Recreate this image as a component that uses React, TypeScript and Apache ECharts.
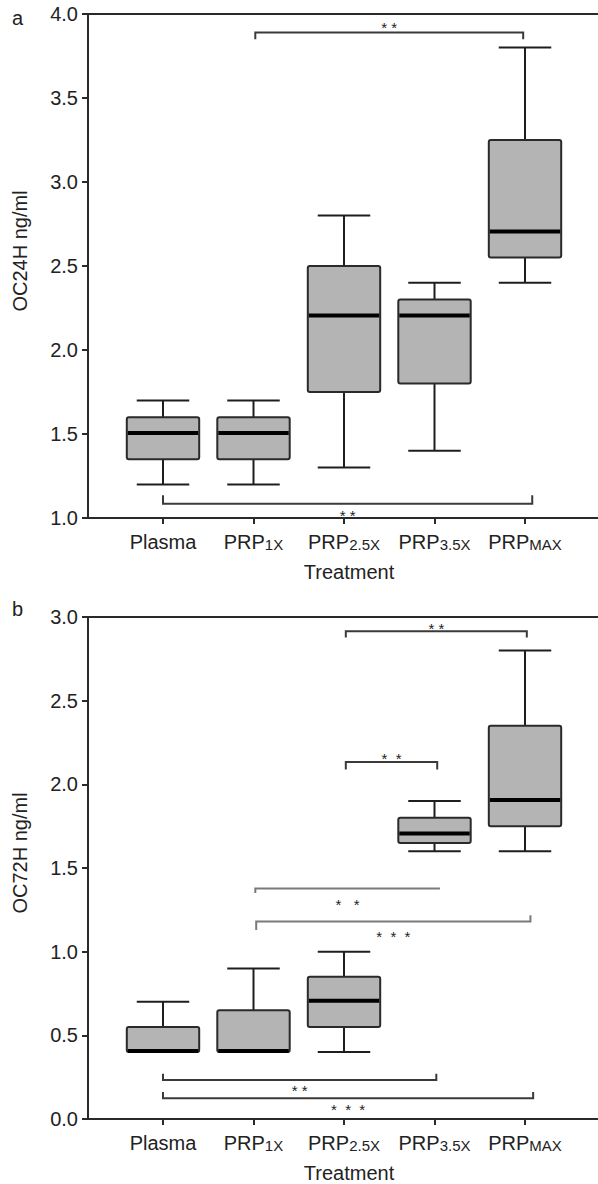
import React, { useEffect, useRef } from "react";
import * as echarts from "echarts";

// ---- data ----
const categories = ["Plasma", "PRP1X", "PRP2.5X", "PRP3.5X", "PRPMAX"];
const labelParts: [string, string][] = [
  ["Plasma", ""],
  ["PRP", "1X"],
  ["PRP", "2.5X"],
  ["PRP", "3.5X"],
  ["PRP", "MAX"],
];
// [min, Q1, median, Q3, max]
const oc24h: number[][] = [
  [1.2, 1.35, 1.5, 1.6, 1.7],
  [1.2, 1.35, 1.5, 1.6, 1.7],
  [1.3, 1.75, 2.2, 2.5, 2.8],
  [1.4, 1.8, 2.2, 2.3, 2.4],
  [2.4, 2.55, 2.7, 3.25, 3.8],
];
const oc72h: number[][] = [
  [0.4, 0.4, 0.4, 0.55, 0.7],
  [0.4, 0.4, 0.4, 0.65, 0.9],
  [0.4, 0.55, 0.7, 0.85, 1.0],
  [1.6, 1.65, 1.7, 1.8, 1.9],
  [1.6, 1.75, 1.9, 2.35, 2.8],
];
const yTicksA = [1.0, 1.5, 2.0, 2.5, 3.0, 3.5, 4.0];
const yTicksB = [0.0, 0.5, 1.0, 1.5, 2.0, 2.5, 3.0];

// significance brackets: [from, to, lineY, leftTickEnd, rightTickEnd, starsY]
const bracketsA: number[][] = [
  [1.02, 3.98, 3.89, 3.85, 3.85, 3.94],
  [0.0, 4.08, 1.085, 1.135, 1.135, 1.03],
];
const starsA = ["* *", "* *"];
const shadeA = [0, 0];

const bracketsB: number[][] = [
  [2.02, 4.02, 2.915, 2.878, 2.878, 2.95],
  [2.02, 3.03, 2.134, 2.088, 2.088, 2.17],
  [1.02, 3.06, 1.378, 1.35, 1.378, 1.3],
  [1.03, 4.06, 1.18, 1.13, 1.217, 1.11],
  [0.0, 3.02, 0.233, 0.27, 0.27, 0.1875],
  [0.0, 4.09, 0.124, 0.162, 0.162, 0.076],
];
const starsB = ["* *", "*  *", "*   *", "*  *  *", "* *", "*  *  *"];
const shadeB = [0, 0, 1, 1, 0, 0];

const FONT = "'Liberation Sans', Arial, Helvetica, sans-serif";

function boxRender(params: any, api: any) {
  const x = api.value(0);
  const lo = api.coord([x, api.value(1)]);
  const q1 = api.coord([x, api.value(2)]);
  const md = api.coord([x, api.value(3)]);
  const q3 = api.coord([x, api.value(4)]);
  const hi = api.coord([x, api.value(5)]);
  const unit = api.size([1, 0])[0];
  const bw = unit * 0.8;
  const cw = unit * 0.58;
  const cx = lo[0];
  const line = { stroke: "#1e1e1e", lineWidth: 2 };
  const children: any[] = [];
  if (hi[1] < q3[1] - 0.5) {
    children.push({ type: "line", shape: { x1: cx, y1: q3[1], x2: cx, y2: hi[1] }, style: line });
    children.push({ type: "line", shape: { x1: cx - cw / 2, y1: hi[1], x2: cx + cw / 2, y2: hi[1] }, style: line });
  }
  if (lo[1] > q1[1] + 0.5) {
    children.push({ type: "line", shape: { x1: cx, y1: q1[1], x2: cx, y2: lo[1] }, style: line });
    children.push({ type: "line", shape: { x1: cx - cw / 2, y1: lo[1], x2: cx + cw / 2, y2: lo[1] }, style: line });
  }
  children.push({
    type: "rect",
    shape: { x: cx - bw / 2, y: q3[1], width: bw, height: q1[1] - q3[1], r: 2 },
    style: { fill: "#b4b4b4", stroke: "#2a2a2a", lineWidth: 2 },
  });
  children.push({
    type: "line",
    shape: { x1: cx - bw / 2 + 1, y1: md[1] - 1, x2: cx + bw / 2 - 1, y2: md[1] - 1 },
    style: { stroke: "#000", lineWidth: 4 },
  });
  return { type: "group", children };
}

function makeBracketRender(labels: string[], shades: number[]) {
  return function (params: any, api: any) {
    const i = params.dataIndex;
    const x1 = api.value(0);
    const x2 = api.value(1);
    const y = api.value(2);
    const p1 = api.coord([x1, y]);
    const p2 = api.coord([x2, y]);
    const t1 = api.coord([x1, api.value(3)]);
    const t2 = api.coord([x2, api.value(4)]);
    const s = api.coord([(x1 + x2) / 2, api.value(5)]);
    const color = shades[i] ? "#7a7a7a" : "#3a3a3a";
    return {
      type: "group",
      children: [
        {
          type: "polyline",
          shape: { points: [[t1[0], t1[1]], [p1[0], p1[1]], [p2[0], p2[1]], [t2[0], t2[1]]] },
          style: { stroke: color, lineWidth: 2, fill: "none" },
        },
        {
          type: "text",
          x: s[0],
          y: s[1] + 3,
          style: {
            text: labels[i],
            fill: "#222",
            fontSize: 15,
            fontFamily: FONT,
            align: "center",
            verticalAlign: "middle",
          },
        },
      ],
    };
  };
}

const X_MIN = -0.8287;
const X_MAX = 4.8066;

function xAxisBottom(gridIndex: number) {
  return {
    type: "value",
    gridIndex,
    min: X_MIN,
    max: X_MAX,
    position: "bottom",
    name: "Treatment",
    nameLocation: "middle",
    nameGap: 44,
    nameTextStyle: { fontSize: 20, color: "#222", fontFamily: FONT, padding: [0, 0, 0, 12] },
    axisLine: { show: true, onZero: false, lineStyle: { color: "#2a2a2a", width: 2 } },
    axisTick: { show: true, customValues: [0, 1, 2, 3, 4], length: 6, lineStyle: { color: "#2a2a2a", width: 2 } },
    axisLabel: {
      show: true,
      customValues: [0, 1, 2, 3, 4],
      margin: 12,
      formatter: (v: number) => {
        const k = Math.round(v);
        const [a, b] = labelParts[k] || [categories[k], ""];
        return b ? `{a|${a}}{b|${b}}` : `{a|${a}}`;
      },
      rich: {
        a: { fontSize: 20, color: "#222", fontFamily: FONT, verticalAlign: "bottom", lineHeight: 22 },
        b: { fontSize: 15, color: "#222", fontFamily: FONT, verticalAlign: "bottom", lineHeight: 20 },
      },
    },
    splitLine: { show: false },
  };
}

function xAxisTop(gridIndex: number) {
  return {
    type: "value",
    gridIndex,
    min: X_MIN,
    max: X_MAX,
    position: "top",
    axisLine: { show: true, onZero: false, lineStyle: { color: "#2a2a2a", width: 2 } },
    axisTick: { show: false },
    axisLabel: { show: false },
    splitLine: { show: false },
  };
}

function yAxis(gridIndex: number, ticks: number[], name: string) {
  return {
    type: "value",
    gridIndex,
    min: ticks[0],
    max: ticks[ticks.length - 1],
    interval: 0.5,
    name,
    nameLocation: "middle",
    nameGap: 58,
    nameTextStyle: { fontSize: 20, color: "#222", fontFamily: FONT, padding: [0, 0, 0, 30] },
    axisLine: { show: true, onZero: false, lineStyle: { color: "#2a2a2a", width: 2 } },
    axisTick: { show: true, length: 6, lineStyle: { color: "#2a2a2a", width: 2 } },
    axisLabel: {
      fontSize: 20,
      color: "#222",
      fontFamily: FONT,
      margin: 10,
      formatter: (v: number) => v.toFixed(1),
    },
    splitLine: { show: false },
  };
}

export default function App() {
  const ref = useRef<HTMLDivElement>(null);
  useEffect(() => {
    document.body.style.margin = "0";
    if (!ref.current) return;
    const chart = echarts.init(ref.current, undefined, { renderer: "svg" });
    const boxA = oc24h.map((d, i) => [i, ...d]);
    const boxB = oc72h.map((d, i) => [i, ...d]);
    chart.setOption({
      animation: false,
      backgroundColor: "#fff",
      textStyle: { fontFamily: FONT },
      grid: [
        { left: 88, right: 0, top: 14, height: 504 },
        { left: 88, right: 0, top: 617, height: 504 },
      ],
      xAxis: [xAxisBottom(0), xAxisTop(0), xAxisBottom(1), xAxisTop(1)],
      yAxis: [yAxis(0, yTicksA, "OC24H ng/ml"), yAxis(1, yTicksB, "OC72H ng/ml")],
      graphic: [
        { type: "text", left: 12, top: 8, style: { text: "a", fontSize: 20, fill: "#222", fontFamily: FONT } },
        { type: "text", left: 12, top: 599, style: { text: "b", fontSize: 20, fill: "#222", fontFamily: FONT } },
      ],
      series: [
        { type: "custom", xAxisIndex: 0, yAxisIndex: 0, renderItem: boxRender, data: boxA, clip: false },
        { type: "custom", xAxisIndex: 0, yAxisIndex: 0, renderItem: makeBracketRender(starsA, shadeA), data: bracketsA, clip: false },
        { type: "custom", xAxisIndex: 2, yAxisIndex: 1, renderItem: boxRender, data: boxB, clip: false },
        { type: "custom", xAxisIndex: 2, yAxisIndex: 1, renderItem: makeBracketRender(starsB, shadeB), data: bracketsB, clip: false },
      ],
    });
    return () => chart.dispose();
  }, []);
  return <div ref={ref} style={{ width: 598, height: 1184 }} />;
}
